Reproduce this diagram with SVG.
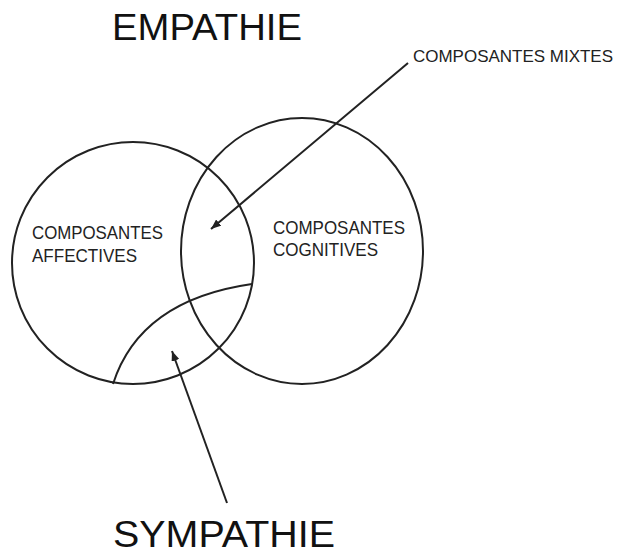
<svg xmlns="http://www.w3.org/2000/svg" width="619" height="555" viewBox="0 0 619 555">
<style>
.shape{fill:none;stroke:#222;stroke-width:2}
.conn{fill:none;stroke:#222;stroke-width:2}
.big{font-family:"Liberation Sans",Arial,sans-serif;font-size:37px;fill:#111}
.lbl{font-family:"Liberation Sans",Arial,sans-serif;font-size:18px;fill:#222}
.mix{font-family:"Liberation Sans",Arial,sans-serif;font-size:17px;fill:#222}
</style>
<defs>
<marker id="ah" viewBox="0 0 10 8" refX="10" refY="4" markerWidth="10" markerHeight="8" markerUnits="userSpaceOnUse" orient="auto">
<path d="M0,0 L10,4 L0,8 Z" fill="#222"/>
</marker>
</defs>
<rect width="619" height="555" fill="#fff"/>
<g id="empathie-title"><text class="big" x="112" y="40" textLength="190" lengthAdjust="spacingAndGlyphs">EMPATHIE</text></g>
<g id="affectives">
<circle class="shape" cx="133" cy="263" r="121"/>
<text class="lbl" x="32" y="239" textLength="131" lengthAdjust="spacingAndGlyphs">COMPOSANTES</text>
<text class="lbl" x="32" y="262" textLength="105" lengthAdjust="spacingAndGlyphs">AFFECTIVES</text>
</g>
<g id="cognitives">
<ellipse class="shape" cx="302" cy="251" rx="121" ry="133"/>
<text class="lbl" x="273" y="234" textLength="132" lengthAdjust="spacingAndGlyphs">COMPOSANTES</text>
<text class="lbl" x="273" y="256" textLength="105" lengthAdjust="spacingAndGlyphs">COGNITIVES</text>
</g>
<g id="sympathie-region"><path class="shape" d="M113,384 Q140,300 252,284"/></g>
<g id="mixtes-label"><text class="mix" x="413" y="62" textLength="200" lengthAdjust="spacingAndGlyphs">COMPOSANTES MIXTES</text></g>
<g id="sympathie-title"><text class="big" x="113" y="547" textLength="222" lengthAdjust="spacingAndGlyphs">SYMPATHIE</text></g>
<g id="connectors">
<line class="conn" x1="408" y1="63" x2="211" y2="229" marker-end="url(#ah)"/>
<line class="conn" x1="227" y1="503" x2="172" y2="351" marker-end="url(#ah)"/>
</g>
</svg>
